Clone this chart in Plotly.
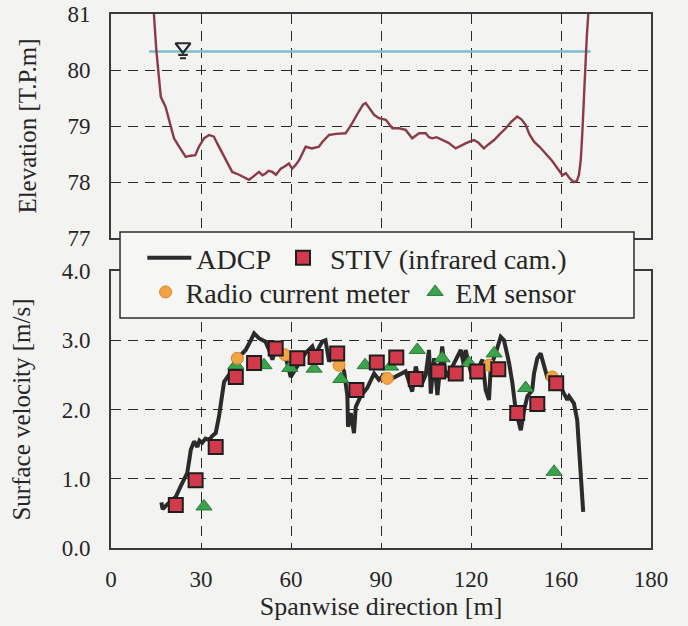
import plotly.graph_objects as go

# ---------------- data ----------------
# Top panel: cross-section bed elevation [T.P.m]
elev_x = [13.9, 14.3, 15.1, 15.8, 16.6, 18.2, 19.9, 21.0, 22.7, 24.9, 26.5, 28.1, 29.3, 31.0,
          32.7, 34.3, 35.5, 37.1, 38.5, 40.4, 42.7, 44.5, 46.0, 47.5, 49.3, 50.5, 51.5, 52.5,
          53.8, 55.0, 56.6, 58.0, 59.3, 60.4, 61.5, 62.7, 64.0, 64.9, 67.0, 69.3, 70.5, 72.7,
          75.0, 78.2, 79.2, 80.4, 82.5, 84.0, 84.9, 86.0, 87.7, 89.3, 91.6, 93.8, 96.0, 98.2,
          100.4, 102.7, 104.9, 106.0, 107.1, 108.5, 110.4, 112.5, 114.9, 116.5, 118.2, 119.5,
          121.0, 122.5, 124.3, 126.0, 127.7, 129.5, 131.6, 133.5, 135.4, 136.8, 138.2, 139.5,
          141.0, 143.0, 144.9, 147.0, 149.3, 150.5, 151.6, 153.0, 154.3, 155.3, 156.0, 156.6,
          157.1, 157.6, 158.0, 158.6, 159.1, 159.4]
elev_z = [81.6, 81.0, 80.36, 79.9, 79.52, 79.34, 78.99, 78.78, 78.63, 78.45, 78.47, 78.48, 78.63, 78.78,
          78.84, 78.81, 78.68, 78.51, 78.38, 78.18, 78.13, 78.08, 78.04, 78.10, 78.18, 78.12, 78.15, 78.20,
          78.18, 78.13, 78.24, 78.28, 78.33, 78.24, 78.30, 78.39, 78.55, 78.63, 78.60, 78.63, 78.72, 78.84,
          78.86, 78.87, 78.95, 79.05, 79.25, 79.38, 79.41, 79.32, 79.20, 79.14, 79.11, 78.96, 78.96, 78.93,
          78.78, 78.87, 78.87, 78.80, 78.78, 78.80, 78.75, 78.70, 78.60, 78.65, 78.69, 78.72,
          78.75, 78.70, 78.60, 78.68, 78.75, 78.85, 78.96, 79.08, 79.17, 79.12, 79.02, 78.85,
          78.72, 78.62, 78.51, 78.38, 78.21, 78.12, 78.16, 78.06, 78.00, 78.02, 78.13, 78.40,
          78.87, 79.50, 80.06, 80.60, 81.0, 81.6]

# water surface level
water_x = [12.7, 159.9]
water_level = 80.33
water_symbol_x = 24.0

# Bottom panel: surface velocity [m/s]
adcp_x = [16.8, 17.2, 18.5, 20.5, 21.6, 23.2, 25.4, 26.2, 26.6, 27.7, 28.8, 29.5, 30.4, 31.5, 32.7,
          33.8, 34.9, 36.0, 37.1, 37.7, 39.3, 41.6, 42.7, 44.9, 46.6, 47.7, 49.3, 51.5, 52.7, 53.8,
          55.0, 56.0, 58.2, 59.9, 61.0, 62.7, 64.9, 67.1, 68.0, 70.4, 71.5, 72.7, 73.8, 75.4, 77.7,
          78.8, 79.0, 79.9, 81.0, 81.6, 83.2, 85.4, 87.7, 89.3, 91.0, 93.8, 96.0, 98.2, 100.4, 101.6,
          103.2, 104.9, 106.0, 106.6, 107.7, 108.8, 110.4, 111.6, 113.8, 116.6, 117.7, 118.2, 119.9,
          122.1, 123.8, 124.9, 126.0, 126.6, 128.2, 129.9, 131.0, 132.7, 133.8, 134.9, 136.6, 137.7,
          138.8, 140.4, 141.0, 142.1, 143.2, 144.3, 145.4, 147.1, 149.3, 151.0, 152.1, 152.7, 154.3,
          155.4, 156.0, 156.9, 157.4]
adcp_v = [0.66, 0.56, 0.62, 0.70, 0.74, 0.89, 1.08, 1.30, 1.42, 1.54, 1.46, 1.55, 1.52, 1.58, 1.56,
          1.62, 1.66, 1.90, 2.23, 2.40, 2.50, 2.62, 2.76, 2.86, 3.00, 3.10, 3.03, 2.98, 2.86, 2.72,
          2.90, 2.86, 2.76, 2.47, 2.55, 2.67, 2.82, 2.91, 2.79, 2.98, 3.00, 2.69, 2.82, 2.78, 2.55,
          2.19, 1.75, 1.95, 1.66, 2.04, 2.19, 2.31, 2.52, 2.43, 2.50, 2.45, 2.50, 2.55, 2.26, 2.62,
          2.33, 2.50, 2.86, 2.23, 2.74, 2.21, 2.91, 2.47, 2.62, 2.86, 2.62, 2.86, 2.55,
          2.57, 2.72, 2.28, 2.14, 2.62, 2.81, 3.05, 3.00, 2.67, 2.38, 1.99, 1.70, 1.99,
          2.19, 2.28, 2.52, 2.74, 2.81, 2.64, 2.47, 2.50, 2.38, 2.23, 2.14, 2.19, 2.09,
          1.85, 1.42, 0.93, 0.52]

stiv_x = [21.6, 28.2, 34.9, 41.6, 47.7, 54.9, 62.1, 68.2, 75.4, 81.8, 88.6, 95.1, 101.6, 109.1,
          114.9, 122.1, 129.1, 135.4, 142.1, 148.4]
stiv_v = [0.62, 0.98, 1.46, 2.47, 2.67, 2.88, 2.74, 2.76, 2.81, 2.28, 2.68, 2.75, 2.44, 2.55,
          2.52, 2.55, 2.58, 1.95, 2.08, 2.38]

radio_x = [42.1, 58.0, 76.0, 92.1, 126.0, 147.1]
radio_v = [2.74, 2.79, 2.64, 2.45, 2.64, 2.47]

em_x = [31.0, 41.6, 51.0, 59.6, 67.7, 76.6, 84.7, 93.2, 102.1, 110.4, 119.3, 127.7, 138.2, 147.7]
em_v = [0.60, 2.64, 2.64, 2.60, 2.59, 2.44, 2.64, 2.62, 2.86, 2.74, 2.67, 2.81, 2.31, 1.10]

x_tickvals = [0, 30, 60, 90, 120, 150, 180]
x_ticktext = ["0", "30", "60", "90", "120", "160", "180"]
elev_ticks = [77, 78, 79, 80, 81]
vel_ticks = [0, 1, 2, 3, 4]
vel_ticktext = ["0.0", "1.0", "2.0", "3.0", "4.0"]

# ---------------- styling ----------------
FONT = "Liberation Serif"
BG = "#f3f3f1"
TXT = "#262626"

fig = go.Figure()

fig.add_trace(go.Scatter(x=water_x, y=[water_level] * len(water_x), mode="lines",
                         line=dict(color="#7fbccb", width=2.6), showlegend=False,
                         xaxis="x", yaxis="y", hoverinfo="skip"))
fig.add_trace(go.Scatter(x=elev_x, y=elev_z, mode="lines",
                         line=dict(color="#8c3a45", width=2.4), showlegend=False,
                         xaxis="x", yaxis="y"))
# water-level symbol
fig.add_trace(go.Scatter(x=[water_symbol_x], y=[water_level + 0.09], mode="markers",
                         marker=dict(symbol="triangle-down-open", size=13, color="#2a2a2a",
                                     line=dict(color="#2a2a2a", width=2.2)),
                         showlegend=False, xaxis="x", yaxis="y", hoverinfo="skip"))

fig.add_trace(go.Scatter(x=adcp_x, y=adcp_v, mode="lines", name="ADCP",
                         line=dict(color="#2b2b2b", width=4), xaxis="x2", yaxis="y2",
                         legend="legend", legendrank=1))
fig.add_trace(go.Scatter(x=em_x, y=em_v, mode="markers", name="EM sensor",
                         marker=dict(symbol="triangle-up", size=14, color="#3aa34c",
                                     line=dict(color="#2c7a38", width=1)),
                         xaxis="x2", yaxis="y2", legend="legend2", legendrank=4))
fig.add_trace(go.Scatter(x=radio_x, y=radio_v, mode="markers", name="Radio current meter",
                         marker=dict(symbol="circle", size=12, color="#f2a444",
                                     line=dict(color="#d9822e", width=1)),
                         xaxis="x2", yaxis="y2", legend="legend2", legendrank=3))
fig.add_trace(go.Scatter(x=stiv_x, y=stiv_v, mode="markers", name="STIV (infrared cam.)",
                         marker=dict(symbol="square", size=14, color="#d23a4c",
                                     line=dict(color="#1e1e1e", width=2)),
                         xaxis="x2", yaxis="y2", legend="legend", legendrank=2))

def axis_style():
    return dict(showline=True, linecolor="#3a3a3a", linewidth=2, mirror=True,
                showgrid=True, gridcolor="#2a2a2a", gridwidth=1.3, griddash="10px,7px",
                zeroline=False, automargin=False,
                tickfont=dict(family=FONT, size=23, color=TXT))

top_dom = [0.5805, 1.0]
bot_dom = [0.0, 0.5187]

fig.update_layout(
    template="none",
    width=688, height=626,
    margin=dict(l=111, r=37, t=14, b=78),
    paper_bgcolor=BG, plot_bgcolor=BG,
    font=dict(family=FONT, color=TXT),
    xaxis=dict(axis_style(), range=[0, 180], tickvals=x_tickvals, showticklabels=False,
               anchor="y", ticks=""),
    yaxis=dict(axis_style(), range=[77, 81], tickvals=elev_ticks, domain=top_dom,
               anchor="x", ticks="", ticklabelstandoff=14,
               title=dict(text="Elevation [T.P.m]", font=dict(family=FONT, size=25, color=TXT),
                          standoff=24)),
    xaxis2=dict(axis_style(), range=[0, 180], tickvals=x_tickvals, ticktext=x_ticktext,
                anchor="y2", ticks="", ticklabelstandoff=9,
                title=dict(text="Spanwise direction [m]", font=dict(family=FONT, size=26, color=TXT),
                           standoff=2)),
    yaxis2=dict(axis_style(), range=[0, 4], tickvals=vel_ticks, ticktext=vel_ticktext,
                domain=bot_dom, anchor="x2", ticks="", ticklabelstandoff=14,
                title=dict(text="Surface velocity [m/s]", font=dict(family=FONT, size=25, color=TXT),
                           standoff=24)),
    legend=dict(orientation="h", x=0.058, y=0.543, xanchor="left", yanchor="middle",
                bgcolor="rgba(0,0,0,0)", borderwidth=0,
                font=dict(family=FONT, size=28, color=TXT), itemwidth=44),
    legend2=dict(orientation="h", x=0.064, y=0.479, xanchor="left", yanchor="middle",
                 bgcolor="rgba(0,0,0,0)", borderwidth=0,
                 font=dict(family=FONT, size=28, color=TXT), itemwidth=30),
    shapes=[
        # legend frame
        dict(type="rect", xref="paper", yref="paper", x0=0.0167, x1=0.9685, y0=0.4307, y1=0.5918,
             fillcolor="#f6f6f4", line=dict(color="#2e2e2e", width=1.5), layer="above"),
        # lines under water-level symbol
        dict(type="line", xref="x", yref="y", x0=water_symbol_x - 1.6, x1=water_symbol_x + 1.6,
             y0=water_level - 0.06, y1=water_level - 0.06, line=dict(color="#2a2a2a", width=2.2)),
        dict(type="line", xref="x", yref="y", x0=water_symbol_x - 1.0, x1=water_symbol_x + 1.0,
             y0=water_level - 0.12, y1=water_level - 0.12, line=dict(color="#2a2a2a", width=2)),
    ],
)

fig.write_html("out.html", config={"displayModeBar": False},
               post_script="document.body.style.margin='0';")
